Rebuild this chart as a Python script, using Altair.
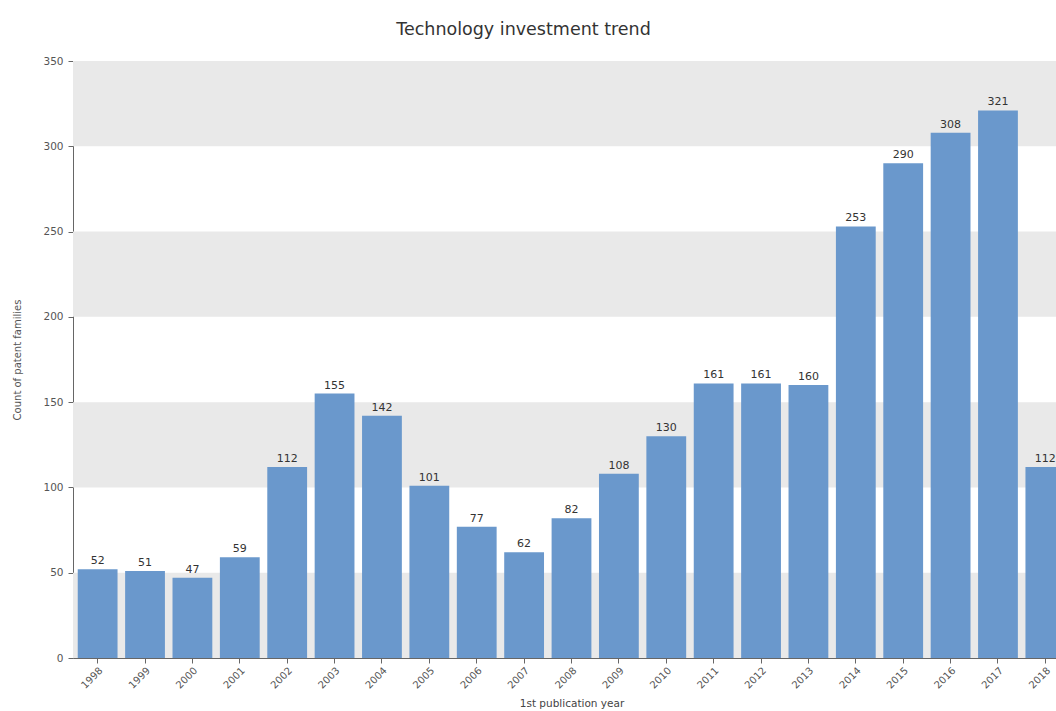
import altair as alt
import pandas as pd

years = [str(y) for y in range(1998, 2019)]
counts = [52, 51, 47, 59, 112, 155, 142, 101, 77, 62, 82, 108, 130, 161, 161, 160, 253, 290, 308, 321, 112]

band_lo = [0, 100, 200, 300]
band_hi = [50, 150, 250, 350]

df = pd.DataFrame({"year": years, "count": counts})
bands = pd.DataFrame({"lo": band_lo, "hi": band_hi})

FONT = "DejaVu Sans"
W, H = 983, 597

xscale = alt.Scale(range=[0, 997], paddingInner=0.16, paddingOuter=0.1)
yscale = alt.Scale(domain=[0, 350], nice=False)

band_layer = alt.Chart(bands).mark_rect(color="#e9e9e9").encode(
    x=alt.value(0),
    x2=alt.value(997),
    y=alt.Y("lo:Q", scale=yscale),
    y2="hi:Q",
)

bars = alt.Chart(df).mark_bar(color="#6a98cc").encode(
    x=alt.X(
        "year:N",
        scale=xscale,
        sort=None,
        title="1st publication year",
        axis=alt.Axis(
            labelAngle=-45,
            labelFont=FONT,
            labelFontSize=10,
            labelColor="#555555",
            tickSize=5,
            tickColor="#666666",
            domainColor="#666666",
            titleFont=FONT,
            titleFontSize=10.5,
            titleFontWeight="normal",
            titleColor="#444444",
            titlePadding=8,
        ),
    ),
    y=alt.Y(
        "count:Q",
        scale=yscale,
        title="Count of patent families",
        axis=alt.Axis(
            values=[0, 50, 100, 150, 200, 250, 300, 350],
            grid=False,
            labelFont=FONT,
            labelFontSize=10.5,
            labelColor="#555555",
            labelPadding=5,
            tickSize=5,
            tickColor="#666666",
            domainColor="#666666",
            titleFont=FONT,
            titleFontSize=10,
            titleFontWeight="normal",
            titleColor="#555555",
            titlePadding=20,
        ),
    ),
)

labels = alt.Chart(df).mark_text(
    font=FONT, fontSize=11, color="#333333", dy=-8
).encode(
    x=alt.X("year:N", scale=xscale, sort=None),
    y=alt.Y("count:Q", scale=yscale),
    text="count:Q",
)

chart = alt.layer(band_layer, bars, labels).properties(
    width=W,
    height=H,
    title=alt.TitleParams(
        "Technology investment trend",
        font=FONT,
        fontSize=17.5,
        fontWeight="normal",
        color="#333333",
        anchor="middle",
        dx=-41,
        offset=18,
    ),
    autosize=alt.AutoSizeParams(type="none"),
    padding={"left": 73, "top": 61, "right": 0, "bottom": 53},
).configure_view(stroke=None)

chart.save("out.html", embed_options={"renderer": "svg", "actions": False})
